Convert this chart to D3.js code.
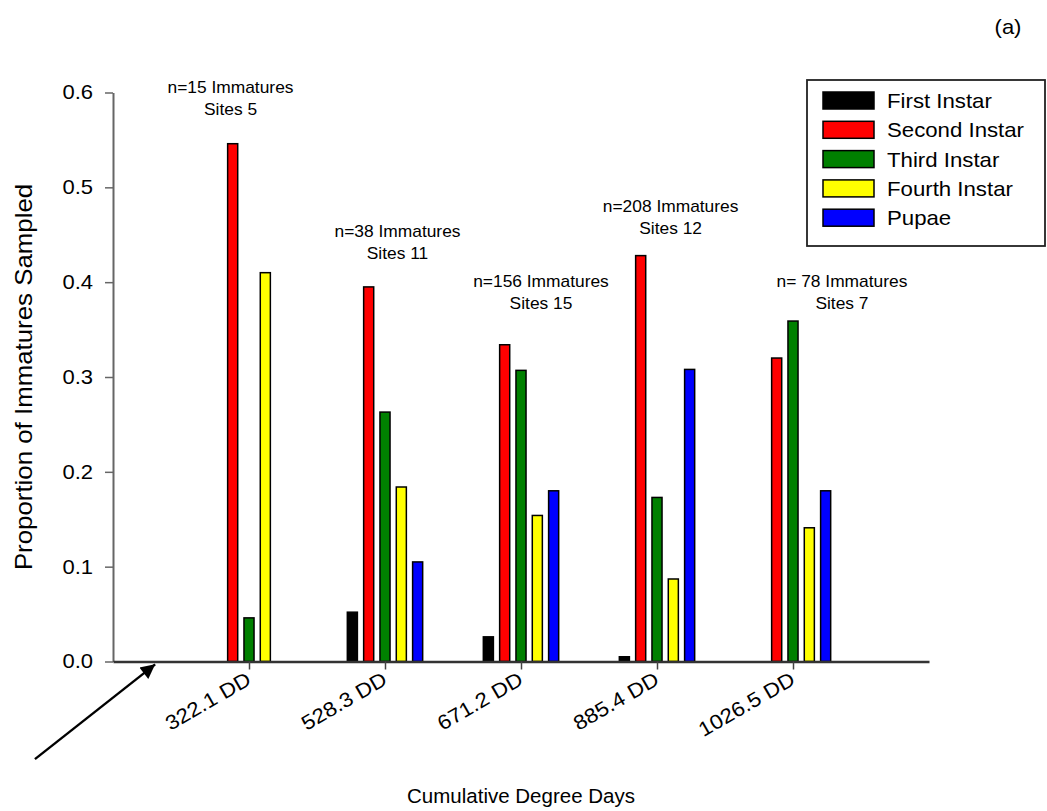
<!DOCTYPE html>
<html>
<head>
<meta charset="utf-8">
<script src="https://cdn.jsdelivr.net/npm/d3@7"></script>
<style>
  body { margin: 0; background: #fff; }
  text { font-family: "Liberation Sans", Arial, sans-serif; fill: #000; }
</style>
</head>
<body>
<div id="chart"></div>
<script>
// Data
const categories = ["322.1 DD", "528.3 DD", "671.2 DD", "885.4 DD", "1026.5 DD"];
const stages = ["First Instar", "Second Instar", "Third Instar", "Fourth Instar", "Pupae"];
const firstInstar  = [0,     0.052, 0.026, 0.005, 0];
const secondInstar = [0.546, 0.395, 0.334, 0.428, 0.320];
const thirdInstar  = [0.046, 0.263, 0.307, 0.173, 0.359];
const fourthInstar = [0.410, 0.184, 0.154, 0.087, 0.141];
const pupae        = [0,     0.105, 0.180, 0.308, 0.180];
const sampleLabels = [
  ["n=15 Immatures", "Sites 5"],
  ["n=38 Immatures", "Sites 11"],
  ["n=156 Immatures", "Sites 15"],
  ["n=208 Immatures", "Sites 12"],
  ["n= 78 Immatures", "Sites 7"]
];
const yTicks = [0, 0.1, 0.2, 0.3, 0.4, 0.5, 0.6];

const series = [firstInstar, secondInstar, thirdInstar, fourthInstar, pupae];
const colors = ["#000000", "#ff0000", "#008000", "#ffff00", "#0000ff"];

// where the sample-size notes sit (category units, value units)
const labelPos = [[0.864, 0.600], [2.092, 0.448], [3.147, 0.395], [4.10, 0.474], [5.36, 0.395]];

const width = 1047, height = 811;

// the original lettering runs a little wider than Arial
const wide = 1.1;

const svg = d3.select("#chart")
  .append("svg")
  .attr("width", width)
  .attr("height", height);

// Scales
const x = d3.scaleLinear()
  .domain([0, categories.length + 1])
  .range([113, 929]);

const y = d3.scaleLinear()
  .domain([0, 0.6])
  .range([661.5, 92.5]);

const step = 0.12, barW = 0.074;

// Bars
series.forEach((vals, k) => {
  svg.append("g")
    .selectAll("rect")
    .data(vals.map((v, i) => ({ v, i })).filter(d => d.v > 0))
    .enter()
    .append("rect")
    .attr("x", d => x(d.i + 1 + (k - 2) * step - barW / 2))
    .attr("y", d => y(d.v))
    .attr("width", x(barW) - x(0))
    .attr("height", d => y(0) - y(d.v))
    .attr("fill", colors[k])
    .attr("stroke", "#000")
    .attr("stroke-width", 1.5);
});

// Y axis
const yAxis = svg.append("g")
  .attr("transform", `translate(${x(0)},0)`)
  .call(d3.axisLeft(y)
    .tickValues(yTicks)
    .tickFormat(d3.format(".1f"))
    .tickSize(8)
    .tickSizeOuter(0));
yAxis.select(".domain").attr("stroke", "#666").attr("stroke-width", 2);
yAxis.selectAll(".tick line").attr("stroke", "#666").attr("stroke-width", 1.5);
yAxis.selectAll("text")
  .style("font-size", "20px")
  .attr("x", 0)
  .attr("transform", `translate(-20,0) scale(${wide},1)`);

// X axis
const xAxis = svg.append("g")
  .attr("transform", `translate(0,${y(0)})`)
  .call(d3.axisBottom(x)
    .tickValues(d3.range(1, categories.length + 1))
    .tickFormat(i => categories[i - 1])
    .tickSize(8)
    .tickSizeOuter(0));
xAxis.select(".domain").attr("stroke", "#333").attr("stroke-width", 2.5);
xAxis.selectAll(".tick line").attr("stroke", "#444").attr("stroke-width", 1.5);
xAxis.selectAll("text")
  .style("font-size", "20.4px")
  .attr("y", 0)
  .attr("dy", null)
  .attr("text-anchor", "end")
  .attr("transform", `translate(3,22) rotate(-30) scale(${wide},1)`);

// Sample size notes
sampleLabels.forEach((lines, i) => {
  lines.forEach((s, j) => {
    svg.append("text")
      .attr("text-anchor", "middle")
      .attr("transform", `translate(${x(labelPos[i][0])},${y(labelPos[i][1]) + j * 22}) scale(${wide},1)`)
      .style("font-size", "15.8px")
      .text(s);
  });
});

// Axis titles
svg.append("text")
  .attr("transform", `translate(32,${(y(0) + y(0.6)) / 2}) rotate(-90) scale(${wide},1)`)
  .attr("text-anchor", "middle")
  .style("font-size", "23.5px")
  .text("Proportion of Immatures Sampled");

svg.append("text")
  .attr("x", (x(0) + x(categories.length + 1)) / 2)
  .attr("y", 803)
  .attr("text-anchor", "middle")
  .style("font-size", "20.5px")
  .text("Cumulative Degree Days");

svg.append("text")
  .attr("transform", `translate(1008,34) scale(${wide},1)`)
  .attr("text-anchor", "middle")
  .style("font-size", "20px")
  .text("(a)");

// Arrow pointing at the origin
svg.append("defs").append("marker")
  .attr("id", "head")
  .attr("viewBox", "0 0 10 10")
  .attr("refX", 10).attr("refY", 5)
  .attr("markerWidth", 7).attr("markerHeight", 6)
  .attr("markerUnits", "strokeWidth")
  .attr("orient", "auto")
  .append("path")
  .attr("d", "M0,0 L10,5 L0,10 Z")
  .attr("fill", "#000");

svg.append("line")
  .attr("x1", x(-0.574)).attr("y1", y(-0.103))
  .attr("x2", x(0.31)).attr("y2", y(-0.003))
  .attr("stroke", "#000")
  .attr("stroke-width", 2.4)
  .attr("marker-end", "url(#head)");

// Legend
const legend = svg.append("g");
legend.append("rect")
  .attr("x", 807).attr("y", 80)
  .attr("width", 238).attr("height", 166)
  .attr("fill", "#fff")
  .attr("stroke", "#222")
  .attr("stroke-width", 1.8);

stages.forEach((s, k) => {
  const cy = 100.5 + k * 29.3;
  legend.append("rect")
    .attr("x", 823).attr("y", cy - 8.5)
    .attr("width", 51).attr("height", 17)
    .attr("fill", colors[k])
    .attr("stroke", "#000")
    .attr("stroke-width", 1.5);
  legend.append("text")
    .attr("transform", `translate(887,${cy + 7.5}) scale(${wide},1)`)
    .style("font-size", "20.2px")
    .text(s);
});
</script>
</body>
</html>
